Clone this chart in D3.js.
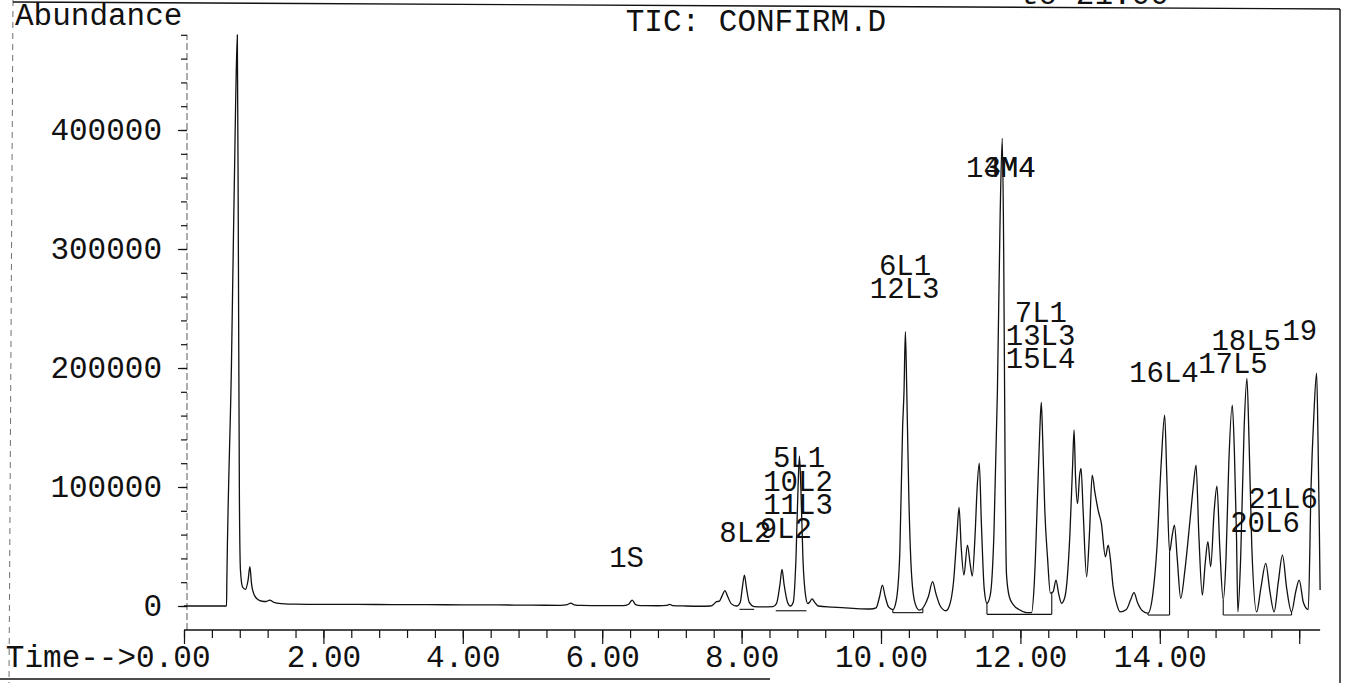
<!DOCTYPE html>
<html>
<head>
<meta charset="utf-8">
<script src="https://cdn.jsdelivr.net/npm/d3@7"></script>
<style>
  html, body { margin: 0; padding: 0; background: #fff; }
  svg { display: block; }
  text { font-family: "Courier New", "Nimbus Mono PS", "FreeMono", "Liberation Mono", monospace; fill: #111; }
</style>
</head>
<body>
<svg id="chart" width="1348" height="683"></svg>
<script>
// ---- Total ion chromatogram, [retention time (min), abundance] ----
const solventFront = [
  [0.00, 0], [0.61, 0], [0.615, 22000], [0.68, 200000], [0.74, 420000], [0.765, 480000],
  [0.78, 300000], [0.795, 90000], [0.81, 30000], [0.84, 16000], [0.88, 14000], [0.92, 22000],
  [0.945, 33000], [0.97, 18000], [1.01, 9000], [1.06, 5500], [1.12, 4000], [1.18, 3800],
  [1.23, 5000], [1.29, 3000], [1.40, 2000], [1.60, 1500]
];
const earlyBaseline = [
  [2.0, 1400], [2.5, 1300], [3.0, 1200], [3.5, 1100], [4.0, 1000], [4.5, 900], [5.0, 700],
  [5.4, 600], [5.50, 1200], [5.55, 2500], [5.60, 1000], [5.7, 500], [6.0, 300], [6.3, 300],
  [6.38, 1500], [6.43, 5000], [6.48, 1200], [6.55, 300], [6.8, 200], [6.93, 600], [6.97, 1400],
  [7.01, 400], [7.2, 0], [7.4, -200], [7.55, 0]
];
const window8 = [
  [7.58, 500], [7.64, 3600], [7.68, 4000], [7.72, 8500], [7.76, 12900], [7.80, 8000], [7.85, 2000],
  [7.93, 0], [7.98, 3000], [8.01, 15000], [8.04, 26000], [8.07, 15000], [8.11, 3000], [8.18, -500],
  [8.30, -800], [8.45, -500], [8.50, 2000], [8.55, 18000], [8.58, 30800], [8.61, 18000], [8.66, 3000],
  [8.70, 0], [8.74, 3000], [8.78, 40000], [8.81, 100000], [8.83, 126000], [8.85, 100000], [8.88, 40000],
  [8.92, 8000], [8.95, 2000], [8.98, 3500], [9.01, 6000], [9.05, 3000], [9.10, 0], [9.30, -1000],
  [9.60, -2000], [9.85, -2500]
];
const window10 = [
  [9.93, -1500], [9.98, 8000], [10.02, 17600], [10.06, 8000], [10.11, -1000], [10.17, -3000],
  [10.22, 5000], [10.27, 45000], [10.31, 150000], [10.33, 180000], [10.35, 230500], [10.37, 180000],
  [10.40, 90000], [10.44, 25000], [10.49, 2000], [10.55, -3500], [10.62, 0], [10.68, 8000],
  [10.74, 20400], [10.79, 10000], [10.85, 0], [10.93, -4000], [10.98, 0], [11.04, 20000],
  [11.09, 60000], [11.12, 82900], [11.15, 50000], [11.19, 26000], [11.24, 51200], [11.28, 35000],
  [11.31, 25200], [11.35, 60000], [11.38, 100000], [11.41, 120000], [11.44, 70000], [11.48, 15000],
  [11.52, 2300]
];
const window12 = [
  [11.57, 10000], [11.62, 60000], [11.67, 180000], [11.71, 330000], [11.74, 393000], [11.76, 300000],
  [11.78, 120000], [11.80, 27000], [11.84, 8000], [11.90, 1000], [11.98, -3000], [12.09, -5500],
  [12.16, -5500], [12.20, 20000], [12.25, 100000], [12.28, 150000], [12.30, 171000], [12.32, 140000],
  [12.35, 80600], [12.39, 40000], [12.43, 10900], [12.47, 12000], [12.51, 21800], [12.55, 10000],
  [12.59, 2300], [12.64, 8000], [12.71, 60000], [12.75, 120000], [12.77, 148000], [12.79, 110000],
  [12.82, 86000], [12.85, 110000], [12.87, 115700], [12.90, 80000], [12.95, 24600], [12.99, 60000],
  [13.03, 110000], [13.07, 95000], [13.12, 79200], [13.16, 70000], [13.22, 41400], [13.26, 51200],
  [13.29, 40000], [13.33, 16200], [13.38, 2000], [13.43, -5000]
];
const window14 = [
  [13.52, -3000], [13.58, 5000], [13.63, 11200], [13.68, 3000], [13.75, -4000], [13.83, -6000],
  [13.90, 10000], [13.96, 50000], [14.02, 120000], [14.07, 160400], [14.10, 110000], [14.14, 45600],
  [14.18, 60000], [14.21, 68000], [14.25, 40000], [14.30, 6500], [14.36, 30000], [14.43, 70000],
  [14.48, 100000], [14.52, 118400], [14.56, 60000], [14.61, 9200], [14.65, 35000], [14.69, 54000],
  [14.73, 33000], [14.78, 80000], [14.82, 100800], [14.86, 50000], [14.91, 5000], [14.95, 40000],
  [14.99, 120000], [15.04, 168800], [15.07, 130000], [15.10, 60000], [15.12, -5000], [15.16, 40000],
  [15.21, 150000], [15.25, 191200], [15.28, 140000], [15.32, 50000], [15.39, -5000], [15.45, 15000],
  [15.52, 35900], [15.58, 12000], [15.64, -5000], [15.70, 20000], [15.76, 42800], [15.82, 15000],
  [15.89, -5000], [15.95, 12000], [16.00, 21800], [16.06, 3000], [16.13, -3000], [16.17, 100000],
  [16.21, 160000], [16.25, 195700], [16.27, 140000], [16.29, 60000], [16.30, 13400]
];

// integration baselines: [start rt, end rt, abundance level]
const baselines = [
  [7.97, 8.18, -2800], [8.49, 8.93, -4000], [10.17, 10.60, -5600],
  [11.52, 12.45, -7000], [13.83, 14.14, -7600], [14.91, 15.89, -7600]
];
// drop lines: [rt, top abundance, bottom abundance]
const dropLines = [
  [10.17, -3000, -5600], [10.60, -2000, -5600], [11.52, 2300, -7000], [12.45, 11000, -7000],
  [13.83, -6000, -7600], [14.14, 45600, -7600], [14.91, 5000, -7600], [15.89, -5000, -7600]
];

// peak annotations: [text, rt of first character, abundance of baseline, stack id]
const peakLabels = [
  ["1S", 6.10, 33000, "a"], ["8L2", 7.68, 54000, "b"], ["9L2", 8.26, 56900, "c"],
  ["5L1", 8.45, 117000, "d"], ["10L2", 8.31, 96900, "d"], ["11L3", 8.31, 77300, "d"],
  ["6L1", 9.97, 278200, "e"], ["12L3", 9.84, 258600, "e"],
  ["14M4", 11.22, 360800, "f"], ["3M4", 11.47, 360800, "g"],
  ["7L1", 11.92, 238900, "h"], ["13L3", 11.79, 219300, "h"], ["15L4", 11.79, 199700, "h"],
  ["16L4", 13.56, 188500, "i"], ["17L5", 14.55, 195500, "j"], ["18L5", 14.74, 215100, "k"],
  ["19", 15.76, 223500, "l"], ["21L6", 15.27, 82100, "m"], ["20L6", 15.01, 62400, "n"]
];

// axis ticks
const xMajorTicks = [0, 2, 4, 6, 8, 10, 12, 14, 16];
const xMinorTicks = d3.range(0, 16.001, 0.4);
const yMajorTicks = [0, 100000, 200000, 300000, 400000];
const yMinorTicks = d3.range(0, 480001, 20000);

const trace = [].concat(solventFront, earlyBaseline, window8, window10, window12, window14);

const svg = d3.select("#chart");
const x = d3.scaleLinear().domain([0, 16]).range([184, 1299.2]);
const y = d3.scaleLinear().domain([0, 480000]).range([606, 34.8]);
const ink = "#111";

// page frame
const frame = svg.append("g").attr("stroke", ink).attr("fill", "none");
frame.append("line").attr("x1", 13).attr("y1", 2).attr("x2", 1340).attr("y2", 9).attr("stroke-width", 1.4);
frame.append("line").attr("x1", 1340).attr("y1", 9).attr("x2", 1340).attr("y2", 683).attr("stroke-width", 1.4);
frame.append("line").attr("x1", 13).attr("y1", 0).attr("x2", 9).attr("y2", 683)
  .attr("stroke-width", 1).attr("stroke-dasharray", "6,5").attr("stroke-opacity", 0.6);
frame.append("line").attr("x1", 0).attr("y1", 679).attr("x2", 770).attr("y2", 679).attr("stroke-width", 1.4);

// header line above the frame, mostly outside the page
svg.append("text").attr("x", 1020).attr("y", 4).attr("font-size", 31).text("to   21.00");

svg.append("text").attr("x", 15).attr("y", 25).attr("font-size", 31).text("Abundance");
svg.append("text").attr("x", 756).attr("y", 31).attr("font-size", 31)
  .attr("text-anchor", "middle").text("TIC: CONFIRM.D");

// x axis
const xAxisY = 630;
svg.append("line").attr("x1", x(0)).attr("x2", x(16.3)).attr("y1", xAxisY).attr("y2", xAxisY)
  .attr("stroke", ink).attr("stroke-width", 1.3);
const gxMinor = svg.append("g").attr("transform", `translate(0,${xAxisY})`)
  .call(d3.axisBottom(x).tickValues(xMinorTicks).tickSize(8).tickFormat(""));
const gxMajor = svg.append("g").attr("transform", `translate(0,${xAxisY})`)
  .call(d3.axisBottom(x).tickValues(xMajorTicks).tickSize(14).tickPadding(1)
    .tickFormat(d => d === 16 ? "" : d.toFixed(2)));
[gxMinor, gxMajor].forEach(g => {
  g.select(".domain").remove();
  g.selectAll(".tick line").attr("stroke", ink).attr("stroke-width", 1.2);
  g.attr("font-family", null).attr("font-size", null);
  g.selectAll("text").attr("font-size", 31).attr("fill", ink);
});
gxMajor.selectAll(".tick").filter(d => d === 0).select("text")
  .attr("text-anchor", "end").attr("x", 26).text("Time-->0.00");

// y axis
const yAxisX = 187;
svg.append("line").attr("x1", yAxisX).attr("x2", yAxisX).attr("y1", xAxisY).attr("y2", y(480000))
  .attr("stroke", ink).attr("stroke-width", 1).attr("stroke-dasharray", "7,3").attr("stroke-opacity", 0.7);
const gyMinor = svg.append("g").attr("transform", `translate(${yAxisX},0)`)
  .call(d3.axisLeft(y).tickValues(yMinorTicks).tickSize(6).tickFormat(""));
const gyMajor = svg.append("g").attr("transform", `translate(${yAxisX},0)`)
  .call(d3.axisLeft(y).tickValues(yMajorTicks).tickSize(9).tickPadding(16).tickFormat(d3.format("d")));
[gyMinor, gyMajor].forEach(g => {
  g.select(".domain").remove();
  g.selectAll(".tick line").attr("stroke", ink).attr("stroke-width", 1.2);
  g.attr("font-family", null).attr("font-size", null);
  g.selectAll("text").attr("font-size", 31).attr("fill", ink);
});

// integration baselines and drop lines
const integ = svg.append("g").attr("stroke", ink).attr("stroke-width", 1.1).attr("fill", "none");
integ.selectAll("line.base").data(baselines).join("line").attr("class", "base")
  .attr("x1", d => x(d[0])).attr("x2", d => x(d[1])).attr("y1", d => y(d[2])).attr("y2", d => y(d[2]));
integ.selectAll("line.drop").data(dropLines).join("line").attr("class", "drop")
  .attr("x1", d => x(d[0])).attr("x2", d => x(d[0])).attr("y1", d => y(d[1])).attr("y2", d => y(d[2]));

// chromatogram trace
const line = d3.line().x(d => x(d[0])).y(d => y(d[1])).curve(d3.curveMonotoneX);
svg.append("path").datum(trace).attr("d", line)
  .attr("fill", "none").attr("stroke", ink).attr("stroke-width", 1.3).attr("stroke-linejoin", "round");

// peak labels, one text element per stacked group
const stacks = d3.groups(peakLabels, d => d[3]);
svg.append("g").selectAll("text").data(stacks).join("text")
  .attr("font-size", 29)
  .each(function ([, rows]) {
    d3.select(this).selectAll("tspan").data(rows).join("tspan")
      .attr("x", d => x(d[1])).attr("y", d => y(d[2])).text(d => d[0]);
  });
</script>
</body>
</html>
